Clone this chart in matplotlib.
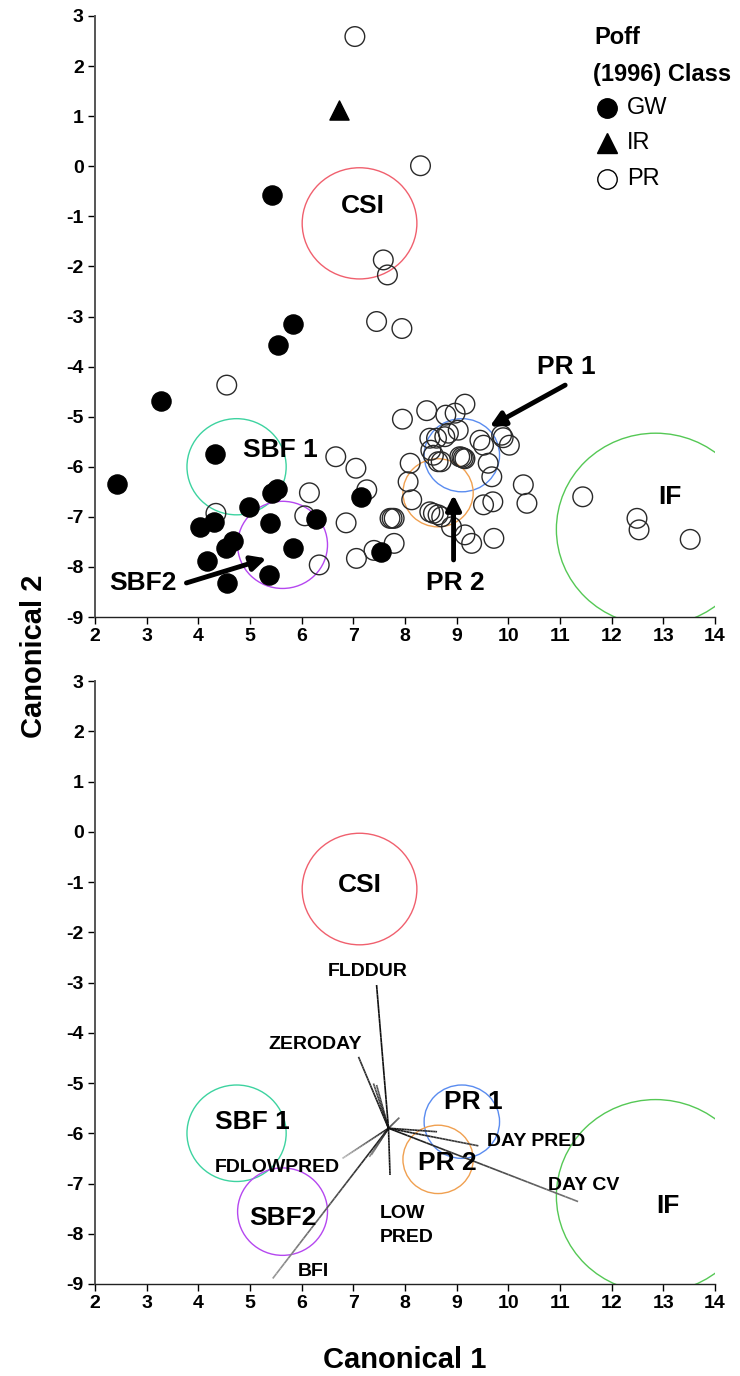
import numpy as np
import matplotlib
matplotlib.use("Agg")
import matplotlib.pyplot as plt
from matplotlib.patches import Ellipse
from matplotlib.collections import LineCollection
from matplotlib.lines import Line2D

plt.rcParams['font.family'] = ['Liberation Sans', 'DejaVu Sans']
plt.rcParams['axes.unicode_minus'] = False

# ---- site scores on canonical axes, by Poff (1996) class ----
gw_x = [5.43, 5.84, 5.54, 3.27, 4.32, 2.42, 5.42, 5.52, 4.99, 4.03, 4.30,
        5.39, 6.28, 4.68, 4.54, 5.83, 4.17, 5.37, 4.55, 7.14, 7.54]
gw_y = [-0.57, -3.15, -3.56, -4.69, -5.74, -6.35, -6.52, -6.45, -6.81, -7.20, -7.10,
        -7.12, -7.05, -7.48, -7.63, -7.63, -7.88, -8.16, -8.33, -6.60, -7.70]

ir_x = [6.73]
ir_y = [1.12]

pr_x = [7.03, 8.30, 7.58, 7.66, 7.45, 7.94, 4.55,
        7.95, 8.42, 8.79, 8.97, 9.16,
        8.48, 8.61, 8.77, 8.84, 9.03,
        9.45, 9.52, 9.87, 9.90, 10.02,
        8.50, 8.55, 8.64, 8.70,
        9.06, 9.10, 9.13, 9.16,
        9.61, 9.68, 8.10, 8.06, 8.13,
        9.52, 9.70,
        8.48, 8.55, 8.64, 8.71,
        8.90, 9.16, 9.29, 9.72,
        10.29, 10.36,
        11.44, 12.49, 12.53, 13.52,
        6.66, 7.05, 6.15, 7.26, 4.34, 6.06, 6.86,
        7.71, 7.75, 7.79, 7.79, 7.40, 7.06, 6.34]
pr_y = [2.59, 0.01, -1.87, -2.17, -3.10, -3.24, -4.37,
        -5.05, -4.88, -4.97, -4.93, -4.75,
        -5.43, -5.43, -5.40, -5.33, -5.27,
        -5.47, -5.57, -5.37, -5.42, -5.57,
        -5.67, -5.77, -5.90, -5.90,
        -5.80, -5.81, -5.83, -5.84,
        -5.93, -6.20, -5.93, -6.30, -6.66,
        -6.76, -6.70,
        -6.90, -6.93, -6.96, -7.00,
        -7.20, -7.36, -7.53, -7.43,
        -6.36, -6.73,
        -6.60, -7.03, -7.26, -7.45,
        -5.80, -6.03, -6.52, -6.46, -6.93, -6.98, -7.12,
        -7.03, -7.03, -7.03, -7.53, -7.67, -7.83, -7.96]

# ---- flow-regime groups: centroid and circle radius ----
group_names = ['CSI', 'SBF 1', 'SBF2', 'PR 1', 'PR 2', 'IF']
group_cx = [7.12, 4.74, 5.63, 9.10, 8.64, 12.85]
group_cy = [-1.14, -6.00, -7.56, -5.77, -6.52, -7.25]
group_r = [1.11, 0.96, 0.87, 0.73, 0.68, 1.92]
group_colors = ['#f0606e', '#3dd3a0', '#b547f0', '#5a8cf0', '#f0a050', '#55c855']

# label positions, upper panel (scores) and lower panel (structure)
top_label_x = [7.19, 5.59, 2.92, 11.13, 8.97, 13.13]
top_label_y = [-0.79, -5.67, -8.33, -4.00, -8.32, -6.60]
bot_label_x = [7.13, 5.05, 5.64, 9.32, 8.81, 13.09]
bot_label_y = [-1.06, -5.77, -7.69, -5.37, -6.60, -7.45]

# pointer arrows for crowded groups in the upper panel: (start) -> (tip)
arrow_names = ['SBF2', 'PR 1', 'PR 2']
arrow_x0 = [3.77, 11.10, 8.94]
arrow_y0 = [-8.32, -4.37, -7.86]
arrow_x1 = [5.32, 9.64, 8.94]
arrow_y1 = [-7.83, -5.20, -6.56]

# ---- variable loadings drawn as vectors from a common origin ----
vec_origin = (7.68, -5.90)
vec_x = [7.45, 7.10, 7.39, 7.45, 7.89, 8.62, 9.42, 11.35, 6.79, 5.44, 7.31, 7.35, 7.71]
vec_y = [-3.05, -4.48, -5.01, -5.04, -5.69, -5.97, -6.25, -7.36, -6.50, -8.89, -6.47, -6.43, -6.83]
vec_end_color = ['#111111', '#333333', '#555555', '#555555', '#444444', '#333333', '#444444',
                 '#777777', '#bbbbbb', '#999999', '#888888', '#888888', '#111111']

var_names = ['FLDDUR', 'ZERODAY', 'DAY PRED', 'DAY CV', 'FDLOWPRED', 'BFI', 'LOW\nPRED']
var_x = [7.28, 6.26, 10.53, 11.45, 5.52, 6.22, 7.52]
var_y = [-2.78, -4.23, -6.17, -7.03, -6.68, -8.76, -7.84]
var_ha = ['center', 'center', 'center', 'center', 'center', 'center', 'left']

xticks = list(range(2, 15))
yticks = list(range(-9, 4))

W, H = 740, 1376
fig = plt.figure(figsize=(W / 100, H / 100), dpi=100)
ax1 = fig.add_axes([95 / W, 1 - 617 / H, 620 / W, 601 / H])
ax2 = fig.add_axes([95 / W, 1 - 1284 / H, 620 / W, 603 / H])


def style_axes(ax):
    ax.set_xlim(2, 14)
    ax.set_ylim(-9, 3)
    ax.set_xticks(xticks)
    ax.set_yticks(yticks)
    for s in ('top', 'right'):
        ax.spines[s].set_visible(False)
    ax.spines['left'].set_color('#555555')
    ax.spines['left'].set_linewidth(1.4)
    ax.spines['bottom'].set_color('#222222')
    ax.spines['bottom'].set_linewidth(1.0)
    ax.tick_params(direction='out', length=5, width=1, labelsize=14, pad=3)
    for lab in ax.get_xticklabels() + ax.get_yticklabels():
        lab.set_fontweight('bold')


def draw_groups(ax, lx, ly):
    for cx, cy, r, c in zip(group_cx, group_cy, group_r, group_colors):
        ax.add_patch(Ellipse((cx, cy), 2 * r, 2 * r, fill=False, edgecolor=c,
                             linewidth=1.0, zorder=2))
    for name, x, y in zip(group_names, lx, ly):
        ax.text(x, y, name, fontsize=19, fontweight='bold', ha='center',
                va='center', zorder=6)


def draw_vector(ax, x0, y0, x1, y1, c_end, n=30):
    t = np.linspace(0, 1, n + 1)
    xs = x0 + (x1 - x0) * t
    ys = y0 + (y1 - y0) * t
    segs = [[(xs[i], ys[i]), (xs[i + 1], ys[i + 1])] for i in range(n)]
    c0 = np.array(matplotlib.colors.to_rgb('#111111'))
    c1 = np.array(matplotlib.colors.to_rgb(c_end))
    cols = [tuple(c0 + (c1 - c0) * (i + 0.5) / n) for i in range(n)]
    ax.add_collection(LineCollection(segs, colors=cols, linewidths=1.2, zorder=3))


# ---- upper panel: site scores ----
style_axes(ax1)
draw_groups(ax1, top_label_x, top_label_y)
ax1.scatter(pr_x, pr_y, s=200, facecolors='none', edgecolors='#2a2a2a',
            linewidths=1.0, zorder=3)
ax1.scatter(gw_x, gw_y, s=190, c='black', edgecolors='black', zorder=4)
ax1.scatter(ir_x, ir_y, s=190, marker='^', c='black', zorder=4)
for x0, y0, x1, y1 in zip(arrow_x0, arrow_y0, arrow_x1, arrow_y1):
    ax1.annotate('', xy=(x1, y1), xytext=(x0, y0),
                 arrowprops=dict(arrowstyle='-|>', color='black', lw=3.5,
                                 mutation_scale=22, shrinkA=0, shrinkB=0),
                 zorder=5)

# ---- lower panel: structure vectors ----
style_axes(ax2)
draw_groups(ax2, bot_label_x, bot_label_y)
for x1, y1, ce in zip(vec_x, vec_y, vec_end_color):
    draw_vector(ax2, vec_origin[0], vec_origin[1], x1, y1, ce)
for name, x, y, ha in zip(var_names, var_x, var_y, var_ha):
    ax2.text(x, y, name, fontsize=14, fontweight='bold', ha=ha, va='center',
             linespacing=1.55, zorder=6)

# ---- axis titles ----
fig.text(34 / W, 1 - 656 / H, 'Canonical 2', rotation=90, fontsize=21,
         fontweight='bold', ha='center', va='center')
fig.text(405 / W, 1 - 1360 / H, 'Canonical 1', fontsize=21,
         fontweight='bold', ha='center', va='center')

# ---- class key ----
fig.text(594 / W, 1 - 38 / H, 'Poff', fontsize=17, fontweight='bold',
         ha='left', va='center')
fig.text(593 / W, 1 - 75 / H, '(1996) Class', fontsize=17, fontweight='bold',
         ha='left', va='center')
key_labels = ['GW', 'IR', 'PR']
key_markers = ['o', '^', 'o']
key_face = ['black', 'black', 'none']
key_y = [108, 143, 179]
for lab, m, fc, yy in zip(key_labels, key_markers, key_face, key_y):
    fig.add_artist(Line2D([607 / W], [1 - yy / H], transform=fig.transFigure,
                          marker=m, markersize=14, markerfacecolor=fc,
                          markeredgecolor='black', markeredgewidth=1.0,
                          linestyle='none'))
    fig.text(627 / W, 1 - yy / H, lab, fontsize=17, ha='left', va='center')

fig.savefig('out.png', dpi=100)
